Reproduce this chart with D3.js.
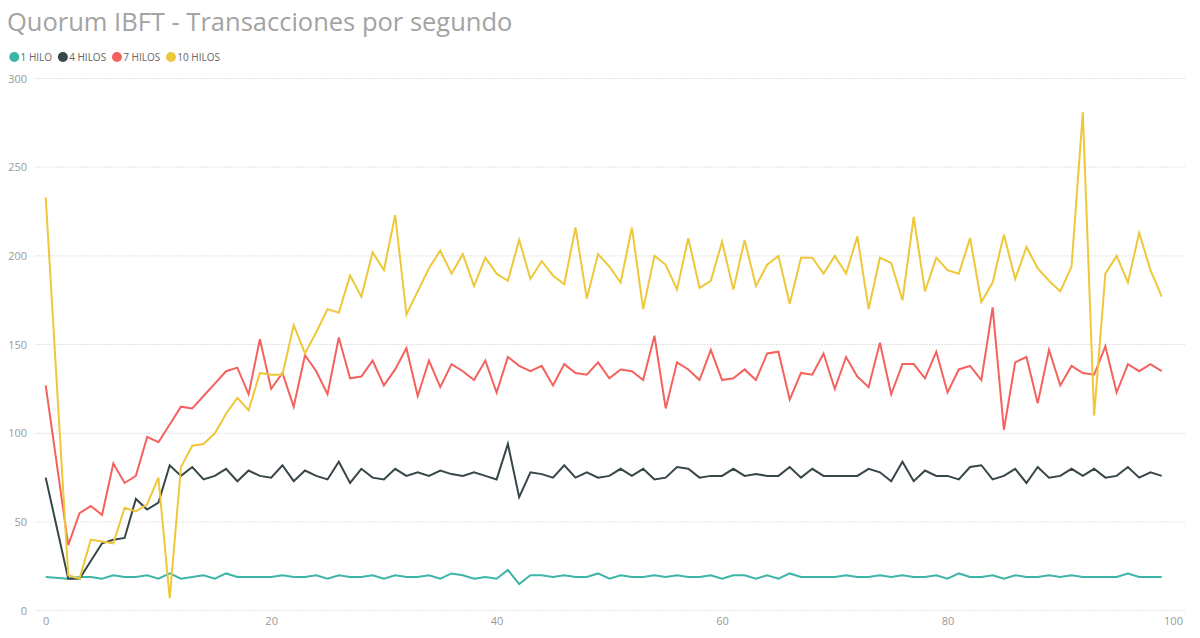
<!DOCTYPE html>
<html>
<head>
<meta charset="utf-8">
<script src="https://cdn.jsdelivr.net/npm/d3@7"></script>
<style>
  body { margin: 0; background: #fff; }
  text { font-family: "Segoe UI", "Open Sans", "Noto Sans", sans-serif; }
</style>
</head>
<body>
<svg id="chart" width="1200" height="638"></svg>
<script>
// x values (second 1 is missing in the source data)
var segundos = [0].concat(d3.range(2, 100));

var hilo1 = [19, 18, 19, 19, 18, 20, 19, 19, 20, 18, 21, 18, 19, 20, 18, 21, 19, 19, 19, 19,
  20, 19, 19, 20, 18, 20, 19, 19, 20, 18, 20, 19, 19, 20, 18, 21, 20, 18, 19, 18,
  23, 15, 20, 20, 19, 20, 19, 19, 21, 18, 20, 19, 19, 20, 19, 20, 19, 19, 20, 18,
  20, 20, 18, 20, 18, 21, 19, 19, 19, 19, 20, 19, 19, 20, 19, 20, 19, 19, 20, 18,
  21, 19, 19, 20, 18, 20, 19, 19, 20, 19, 20, 19, 19, 19, 19, 21, 19, 19, 19];

var hilos4 = [75, 18, 18, 28, 38, 40, 41, 63, 57, 61, 82, 76, 81, 74, 76, 80, 73, 79, 76, 75,
  82, 73, 79, 76, 74, 84, 72, 80, 75, 74, 80, 76, 78, 76, 79, 77, 76, 78, 76, 74,
  94, 64, 78, 77, 75, 82, 75, 78, 75, 76, 80, 76, 80, 74, 75, 81, 80, 75, 76, 76,
  80, 76, 77, 76, 76, 81, 75, 80, 76, 76, 76, 76, 80, 78, 73, 84, 73, 79, 76, 76,
  74, 81, 82, 74, 76, 80, 72, 81, 75, 76, 80, 76, 80, 75, 76, 81, 75, 78, 76];

var hilos7 = [127, 37, 55, 59, 54, 83, 72, 76, 98, 95, 105, 115, 114, 121, 128, 135, 137, 122, 153, 125,
  134, 115, 144, 135, 122, 154, 131, 132, 141, 127, 136, 148, 121, 141, 126, 139, 135, 130, 141, 123,
  143, 138, 135, 138, 127, 139, 134, 133, 140, 131, 136, 135, 130, 155, 114, 140, 136, 130, 147, 130,
  131, 136, 130, 145, 146, 119, 134, 133, 145, 125, 143, 132, 126, 151, 122, 139, 139, 131, 146, 123,
  136, 138, 130, 171, 102, 140, 143, 117, 147, 127, 138, 134, 133, 149, 123, 139, 135, 139, 135];

var hilos10 = [233, 20, 18, 40, 39, 38, 58, 56, 60, 75, 7, 81, 93, 94, 100, 111, 120, 113, 134, 133,
  133, 161, 145, 157, 170, 168, 189, 177, 202, 192, 223, 167, 180, 193, 203, 190, 201, 183, 199, 190,
  186, 209, 187, 197, 189, 184, 216, 176, 201, 194, 185, 216, 170, 200, 195, 181, 210, 182, 186, 208,
  181, 209, 183, 195, 200, 173, 199, 199, 190, 200, 190, 211, 170, 199, 196, 175, 222, 180, 199, 192,
  190, 210, 174, 185, 212, 187, 205, 193, 186, 180, 194, 281, 110, 190, 200, 185, 213, 192, 177];

var nombres = ["1 HILO", "4 HILOS", "7 HILOS", "10 HILOS"];
var colores = ["#3db5a8", "#374649", "#f4625e", "#eec73a"];
var yTicks = [0, 50, 100, 150, 200, 250, 300];
var xTicks = [0, 20, 40, 60, 80, 100];

var series = [hilo1, hilos4, hilos7, hilos10];

var svg = d3.select("#chart");

var x = d3.scaleLinear().domain([0, 100]).range([45.7, 1173]);
var y = d3.scaleLinear().domain([0, 300]).range([610.7, 78.5]);

// title
svg.append("text")
  .attr("x", 7)
  .attr("y", 31)
  .style("font-size", "25.5px")
  .style("fill", "#a3a3a3")
  .text("Quorum IBFT - Transacciones por segundo");

// legend
var lx = 14.3;
nombres.forEach(function(n, i) {
  svg.append("circle")
    .attr("cx", lx)
    .attr("cy", 57)
    .attr("r", 5)
    .style("fill", colores[i]);
  var t = svg.append("text")
    .attr("x", lx + 6.3)
    .attr("y", 60.5)
    .style("font-size", "10px")
    .style("fill", "#666")
    .text(n);
  lx = lx + 6.3 + t.node().getComputedTextLength() + 10.8;
});

// gridlines
svg.append("g").selectAll("line")
  .data(yTicks)
  .enter().append("line")
  .attr("x1", 35)
  .attr("x2", 1185)
  .attr("y1", function(d) { return y(d); })
  .attr("y2", function(d) { return y(d); })
  .style("stroke", "#e2e2e2")
  .style("stroke-dasharray", "2,1");

// axes
var yAxis = svg.append("g")
  .attr("transform", "translate(27,0)")
  .call(d3.axisLeft(y).tickValues(yTicks).tickSize(0).tickPadding(0));
var xAxis = svg.append("g")
  .attr("transform", "translate(0,617)")
  .call(d3.axisBottom(x).tickValues(xTicks).tickSize(0).tickPadding(0));

[yAxis, xAxis].forEach(function(a) {
  a.select(".domain").remove();
  a.selectAll("text")
    .style("font-size", "11px")
    .style("fill", "#999")
    .style("font-family", '"Segoe UI", "Open Sans", "Noto Sans", sans-serif');
});

// lines
var line = d3.line()
  .x(function(d, i) { return x(segundos[i]); })
  .y(function(d) { return y(d); });

series.forEach(function(s, i) {
  svg.append("path")
    .datum(s)
    .attr("d", line)
    .style("fill", "none")
    .style("stroke", colores[i])
    .style("stroke-width", 2)
    .style("stroke-linejoin", "miter");
});
</script>
</body>
</html>
